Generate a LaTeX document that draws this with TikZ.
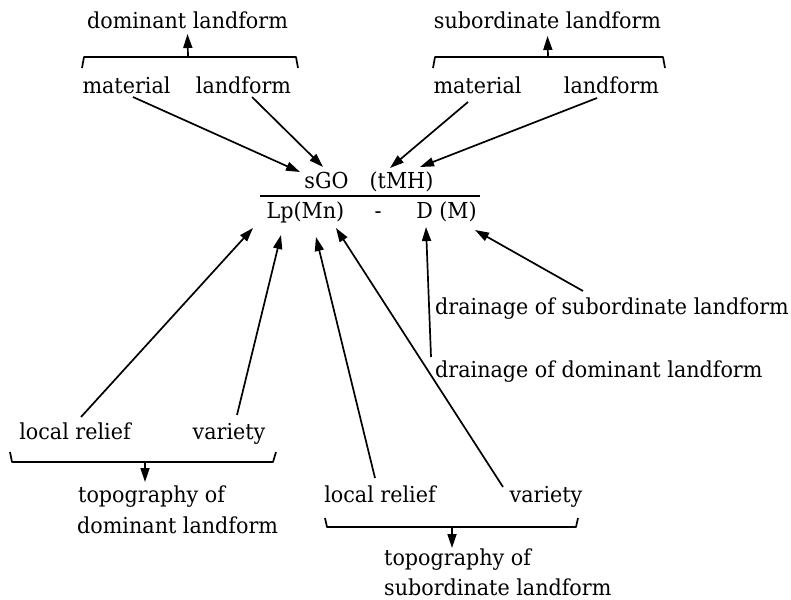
\documentclass[tikz,border=0pt]{standalone}
\usepackage{fontspec}
\setmainfont{DejaVu Serif}[FakeStretch=0.94]
\usetikzlibrary{arrows.meta}
\begin{document}
\begin{tikzpicture}[x=1pt,y=-1pt,
  txt/.style={inner sep=0pt, anchor=base, font=\fontsize{22}{26}\selectfont},
  arr/.style={-{Triangle[length=14pt,width=9pt]}, line width=1.7pt},
  brk/.style={line width=1.7pt, line join=round}]
\useasboundingbox (0,0) rectangle (791,599);

% top labels
\node[txt] (domT) at (187.5,29) {dominant landform};
\node[txt] (subT) at (547.5,29) {subordinate landform};
\node[txt] (matL) at (126.5,93) {material};
\node[txt] (lfL)  at (243.5,93) {landform};
\node[txt] (matR) at (477.5,93) {material};
\node[txt] (lfR)  at (611.5,93) {landform};

% symbol
\node[txt] (sgo) at (326.5,188) {sGO};
\node[txt] (tmh) at (401.5,188) {(tMH)};
\node[txt] (lp)  at (305.5,218) {Lp(Mn)};
\node[txt] (dash) at (378,218) {-};
\node[txt] (dm)  at (446.5,218) {D (M)};
\coordinate (ruleL) at (260,196);
\coordinate (ruleR) at (480,196);
\draw[line width=1.7pt] (ruleL) -- (ruleR);

% drainage
\node[txt, anchor=base west] (drS) at (435,314) {drainage of subordinate landform};
\node[txt, anchor=base west] (drD) at (435,377) {drainage of dominant landform};

% bottom left group
\node[txt] (lrL) at (75,439) {local relief};
\node[txt] (vaL) at (229,439) {variety};
\node[txt, anchor=base west] (topL) at (78,502) {topography of};
\node[txt, anchor=base west] (topL2) at (77,533) {dominant landform};

% bottom right group
\node[txt] (lrR) at (380,502) {local relief};
\node[txt] (vaR) at (546,502) {variety};
\node[txt, anchor=base west] (topR) at (384,565) {topography of};
\node[txt, anchor=base west] (topR2) at (384,595) {subordinate landform};

% top brackets
\draw[brk] (82,68) -- (84,57) -- (296,57) -- (298,68);
\coordinate (bL) at (188,57);
\draw[arr] (bL) -- (domT.south |- 0,34);
\draw[brk] (433,68) -- (435,57) -- (663,57) -- (665,68);
\coordinate (bR) at (548,57);
\draw[arr] (bR) -- (subT.south |- 0,36);

% top arrows into symbol
\coordinate (t1) at (133,97);  \coordinate (h1) at (300,172);
\coordinate (t2) at (252,97);  \coordinate (h2) at (323,167);
\coordinate (t3) at (468,102); \coordinate (h3) at (390,168);
\coordinate (t4) at (597,98);  \coordinate (h4) at (420,167);
\draw[arr] (t1) -- (h1);
\draw[arr] (t2) -- (h2);
\draw[arr] (t3) -- (h3);
\draw[arr] (t4) -- (h4);

% bottom arrows into symbol
\coordinate (u1) at (81,417);  \coordinate (k1) at (253,228);
\coordinate (u2) at (237,415); \coordinate (k2) at (281,235);
\coordinate (u3) at (375,478); \coordinate (k3) at (316,237);
\coordinate (u4) at (503,487); \coordinate (k4) at (336,228);
\coordinate (u5) at (431,357); \coordinate (k5) at (426,227);
\coordinate (u6) at (583,291); \coordinate (k6) at (475,230);
\draw[arr] (u1) -- (k1);
\draw[arr] (u2) -- (k2);
\draw[arr] (u3) -- (k3);
\draw[arr] (u4) -- (k4);
\draw[arr] (u5) -- (k5);
\draw[arr] (u6) -- (k6);

% bottom brackets
\draw[brk] (10,452) -- (12,462) -- (273,462) -- (276,452);
\coordinate (cL) at (145,462);
\draw[arr] (cL) -- (145,482);
\draw[brk] (325,518) -- (327,527) -- (576,527) -- (578,518);
\coordinate (cR) at (452,527);
\draw[arr] (cR) -- (452,548);
\end{tikzpicture}
\end{document}
